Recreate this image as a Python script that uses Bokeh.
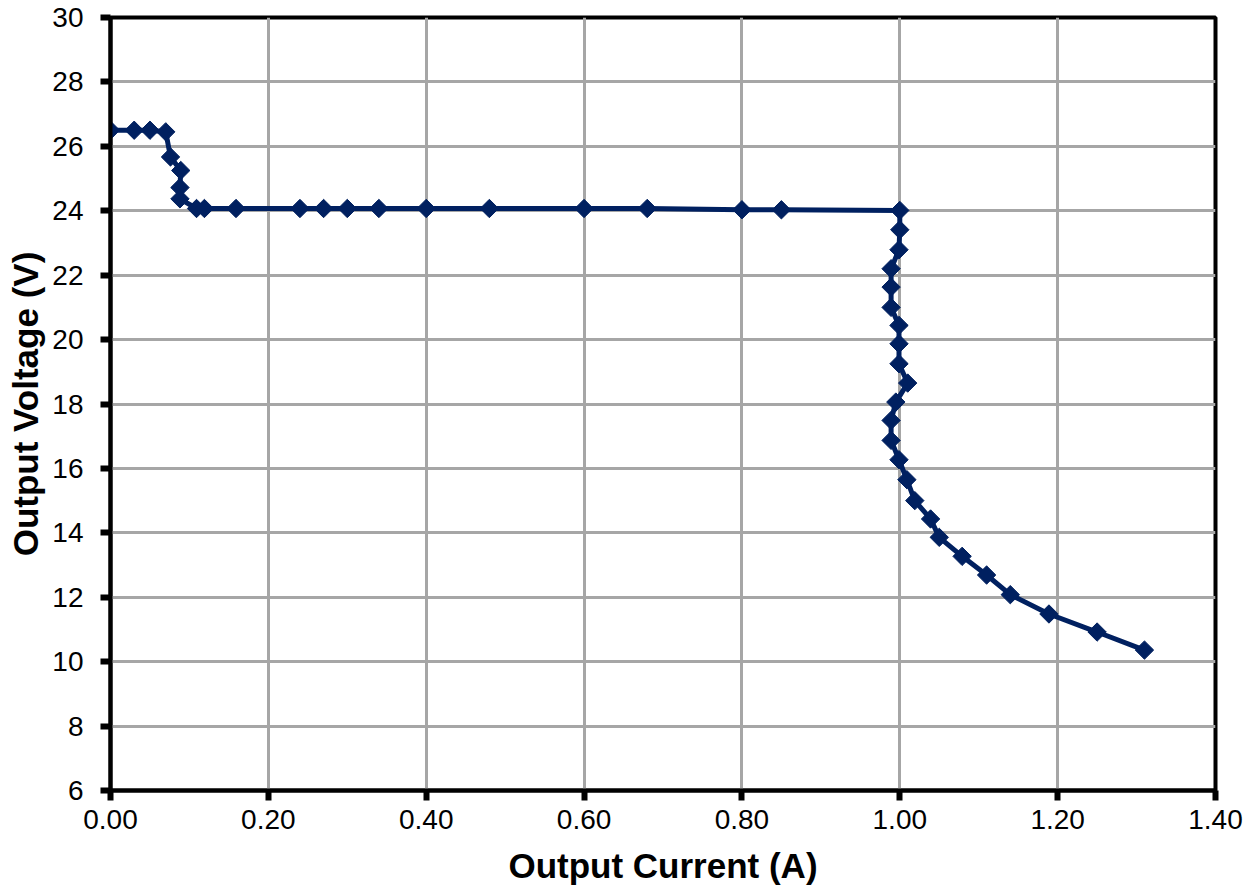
from bokeh.plotting import figure
from bokeh.models import Range1d, FixedTicker, NumeralTickFormatter
from bokeh.embed import file_html
from bokeh.resources import INLINE

current = [0.0, 0.03, 0.05, 0.07, 0.076, 0.089, 0.088, 0.088, 0.109, 0.119, 0.159,
           0.24, 0.27, 0.30, 0.34, 0.40, 0.48, 0.60, 0.68, 0.80, 0.85, 1.00,
           1.00, 0.999, 0.989, 0.989, 0.989, 0.999, 0.999, 0.999, 1.01, 0.995,
           0.989, 0.989, 0.999, 1.009, 1.019, 1.039, 1.05, 1.079, 1.11, 1.14,
           1.189, 1.25, 1.31]
voltage = [26.5, 26.5, 26.5, 26.45, 25.67, 25.25, 24.72, 24.37, 24.07, 24.07, 24.07,
           24.07, 24.07, 24.07, 24.07, 24.07, 24.07, 24.07, 24.07, 24.03, 24.03, 24.01,
           23.41, 22.79, 22.2, 21.63, 21.0, 20.44, 19.87, 19.25, 18.65, 18.06,
           17.49, 16.87, 16.27, 15.65, 15.0, 14.43, 13.86, 13.27, 12.69, 12.08,
           11.48, 10.92, 10.36]
x_ticks = [0.0, 0.2, 0.4, 0.6, 0.8, 1.0, 1.2, 1.4]
y_ticks = [6, 8, 10, 12, 14, 16, 18, 20, 22, 24, 26, 28, 30]
x_title = "Output Current (A)"
y_title = "Output Voltage (V)"

FONT = "Liberation Sans"
NAVY = "#002060"

p = figure(width=1253, height=896, output_backend="svg", toolbar_location=None,
           x_range=Range1d(0, 1.4), y_range=Range1d(6, 30),
           min_border_left=110, min_border_right=38, min_border_top=17, min_border_bottom=106)

p.line(current, voltage, line_color=NAVY, line_width=5)
p.scatter(current, voltage, marker="square", angle=0.7854, size=13,
          fill_color=NAVY, line_color=NAVY, line_width=1)

p.xaxis.ticker = FixedTicker(ticks=x_ticks)
p.yaxis.ticker = FixedTicker(ticks=y_ticks)
p.xaxis.formatter = NumeralTickFormatter(format="0.00")
p.xaxis.axis_label = x_title
p.yaxis.axis_label = y_title

for ax in (p.xaxis[0], p.yaxis[0]):
    ax.axis_line_width = 4
    ax.axis_line_color = "black"
    ax.major_tick_line_width = 6
    ax.major_tick_line_color = "black"
    ax.major_tick_out = 10
    ax.major_tick_in = 0
    ax.minor_tick_line_color = None
    ax.major_label_text_font = FONT
    ax.major_label_text_font_size = "28px"
    ax.major_label_text_color = "black"
    ax.axis_label_text_font = FONT
    ax.axis_label_text_font_size = "35px"
    ax.axis_label_text_font_style = "bold"
    ax.axis_label_text_color = "black"

p.xaxis.major_label_standoff = 9
p.xaxis.axis_label_standoff = 14
p.yaxis.major_label_standoff = 17
p.yaxis.axis_label_standoff = 4

p.grid.grid_line_color = "#a6a6a6"
p.grid.grid_line_width = 3
p.outline_line_color = "black"
p.outline_line_width = 4
p.outline_line_alpha = 1.0

open("out.html", "w").write(file_html(p, INLINE))
